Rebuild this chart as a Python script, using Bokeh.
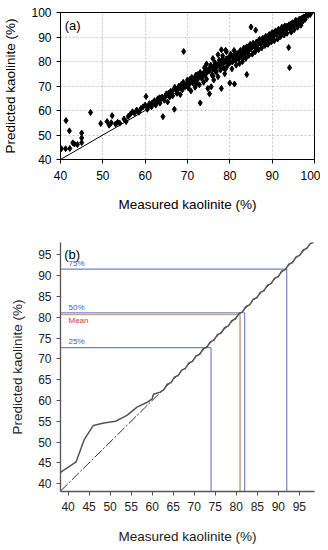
from bokeh.plotting import figure
from bokeh.layouts import column
from bokeh.models import Range1d, Label, FixedTicker
from bokeh.embed import file_html
from bokeh.resources import INLINE

FONT = "Liberation Sans"

# ---------------- Panel (a): measured vs predicted scatter ----------------
meas_a = [40.2, 41.2, 42.2, 41.3, 42.1, 42.9, 43.3, 44.0, 45.0, 45.0, 45.0, 47.1,
          49.5, 51.0, 51.5, 52.0, 52.2, 53.0, 53.5, 54.0, 55.0, 55.5, 56.0, 56.5,
          57.0, 57.5, 58.0, 58.5, 59.0, 59.5, 60.0, 60.2, 60.5, 61.0, 61.5, 62.0,
          62.5, 63.0, 63.5, 64.0, 64.2, 64.5, 65.0, 65.3, 65.8, 66.0, 66.5, 66.9,
          67.0, 67.5, 68.0, 68.3, 68.8, 69.0, 69.1, 69.5, 70.0, 70.3, 70.8, 71.0,
          71.3, 71.8, 72.0, 72.3, 72.8, 73.0, 73.0, 73.3, 73.8, 74.0, 74.2, 74.5,
          74.8, 75.0, 75.2, 75.5, 75.6, 75.8, 76.0, 76.2, 76.5, 76.8, 77.0, 77.2,
          77.5, 77.8, 78.0, 78.0, 78.3, 78.5, 78.8, 79.0, 79.2, 79.5, 79.8, 80.0,
          80.0, 80.2, 80.5, 80.8, 81.0, 81.1, 81.3, 81.5, 81.8, 82.0, 82.3, 82.5,
          82.8, 83.0, 83.3, 83.5, 83.8, 84.0, 84.0, 84.3, 84.5, 84.8, 85.0, 85.0,
          85.3, 85.5, 85.8, 86.0, 86.1, 86.3, 86.5, 86.8, 87.0, 87.3, 87.5, 87.8,
          88.0, 88.3, 88.5, 88.8, 89.0, 89.3, 89.5, 89.8, 90.0, 90.3, 90.5, 90.8,
          91.0, 91.3, 91.5, 91.8, 92.0, 92.3, 92.5, 92.8, 93.0, 93.3, 93.5, 93.9,
          94.0, 94.1, 94.3, 94.5, 94.8, 95.0, 95.2, 95.5, 95.8, 96.0, 96.3, 96.5,
          96.8, 97.0, 97.3, 97.5, 97.8, 98.0, 98.5, 99.0,
          62.2, 63.7, 65.5, 67.2, 68.6, 69.8, 70.6, 71.6, 72.5, 73.6, 74.6, 75.4,
          76.4, 77.4, 78.2, 79.4, 80.4, 81.6, 82.6, 83.6, 84.6, 85.6, 86.6, 87.6,
          88.6, 89.6, 90.6, 91.6, 92.6, 93.6, 94.6, 95.6, 96.6, 97.6, 70.2, 72.2,
          74.4, 76.6, 78.6, 80.6, 82.2, 84.2, 86.2, 88.2, 90.2, 92.2, 94.2, 96.2]
pred_a = [44.4, 44.4, 44.5, 55.9, 51.7, 46.8, 46.3, 46.1, 46.9, 48.8, 50.8, 59.2,
          54.7, 55.5, 54.0, 55.0, 57.9, 54.5, 55.2, 54.8, 56.5, 55.5, 57.6, 58.5,
          59.5, 58.8, 60.2, 59.3, 60.8, 61.5, 62.2, 65.7, 60.5, 62.8, 61.5, 63.5,
          62.2, 64.8, 63.0, 65.5, 57.5, 64.2, 66.8, 63.5, 65.5, 67.8, 66.0, 60.5,
          69.5, 67.0, 70.0, 66.5, 68.5, 71.5, 84.1, 69.8, 72.5, 70.3, 68.0, 73.5,
          71.2, 69.5, 74.5, 72.5, 70.5, 63.1, 75.5, 73.2, 71.5, 77.5, 74.5, 72.8,
          69.0, 76.2, 66.8, 78.5, 69.7, 74.5, 77.0, 72.5, 79.5, 75.8, 78.0, 73.8,
          80.5, 76.5, 79.0, 69.0, 82.3, 77.5, 75.0, 80.2, 84.0, 78.5, 81.5, 79.5,
          71.2, 83.0, 77.0, 82.0, 84.5, 70.8, 80.5, 78.5, 83.2, 81.0, 79.2, 84.5,
          82.3, 80.0, 85.5, 83.0, 81.3, 74.7, 86.0, 84.2, 82.5, 87.0, 94.1, 85.2,
          83.0, 87.5, 86.0, 84.0, 92.8, 88.0, 86.5, 84.8, 89.0, 87.2, 85.5, 89.5,
          88.0, 86.5, 90.3, 88.8, 87.0, 91.0, 89.5, 88.0, 91.8, 90.2, 88.5, 92.5,
          91.0, 89.2, 93.2, 91.8, 90.2, 94.0, 92.5, 90.8, 94.5, 93.0, 91.5, 85.7,
          95.0, 77.5, 93.8, 92.0, 95.8, 94.5, 93.0, 96.2, 95.0, 94.0, 97.0, 95.8,
          94.8, 97.5, 96.5, 98.2, 97.2, 98.5, 98.8, 99.2,
          64.0, 65.0, 67.0, 68.5, 70.8, 71.0, 72.8, 73.0, 74.8, 74.0, 76.5, 77.8,
          78.3, 79.0, 80.8, 81.2, 82.5, 82.0, 84.0, 84.5, 86.2, 86.8, 87.6, 88.8,
          89.8, 90.5, 91.5, 92.6, 93.5, 94.2, 95.4, 96.8, 97.2, 98.0, 69.2, 71.0,
          75.5, 76.0, 80.0, 79.8, 81.8, 83.8, 85.5, 87.8, 89.2, 91.4, 93.2, 95.6]

# densest part of the band, near the 1:1 line
meas_band = [60.8, 61.6, 62.9, 63.4, 64.8, 65.6, 66.4, 67.7, 68.2, 69.3, 70.1, 70.9,
             71.5, 72.1, 72.7, 73.4, 73.9, 74.3, 75.1, 75.7, 76.3, 76.9, 77.6, 78.1,
             78.7, 79.1, 79.7, 80.3, 80.9, 81.4, 81.9, 82.4, 82.9, 83.4, 83.9, 84.4,
             84.9, 85.4, 85.9, 86.4, 86.9, 87.4, 87.9, 88.4, 88.9, 89.4, 89.9, 90.4,
             90.9, 91.4, 91.9, 92.4, 92.9, 93.4, 93.9, 94.4, 94.9, 95.4, 95.9, 96.4,
             96.9, 97.4, 97.9, 76.0, 79.0, 83.0, 86.0, 89.0, 92.0, 74.5, 76.0, 77.2,
             79.0, 78.0]
pred_band = [61.8, 63.0, 63.8, 65.2, 66.0, 66.4, 67.9, 68.5, 69.8, 70.1, 71.6, 71.8,
             72.9, 73.2, 74.0, 74.3, 75.6, 75.2, 76.4, 77.2, 77.6, 78.5, 78.6, 79.8,
             79.9, 81.0, 80.8, 82.1, 81.9, 83.1, 82.6, 84.0, 83.6, 84.9, 84.8, 85.9,
             85.6, 87.0, 86.7, 87.8, 87.6, 88.9, 88.5, 89.7, 89.6, 90.8, 90.4, 91.7,
             91.5, 92.5, 92.7, 93.4, 93.8, 94.3, 94.6, 95.3, 95.6, 96.3, 96.5, 97.2,
             97.5, 98.1, 98.4, 74.2, 77.0, 81.0, 84.2, 87.2, 90.5, 79.0, 81.2, 82.8,
             84.6, 84.8]

one_to_one = [40, 100]

# ---------------- Panel (b): quantile comparison ----------------
qq_meas = [38.2, 41.9, 43.8, 46.0, 48.5, 51.3, 54.0, 56.4, 58.7, 60.0, 60.3, 61.9,
           62.8, 63.6, 64.5, 65.3, 66.2, 67.0, 67.9, 68.7, 69.6, 70.4, 71.3, 72.1,
           73.0, 73.8, 74.7, 75.5, 76.4, 77.2, 78.1, 78.9, 79.8, 80.6, 81.5, 82.3,
           83.2, 84.0, 84.9, 85.7, 86.6, 87.4, 88.3, 89.1, 90.0, 90.8, 91.7, 92.5,
           93.4, 94.2, 95.1, 95.9, 96.8, 97.6, 98.4]
qq_pred = [42.7, 45.2, 50.5, 54.0, 54.6, 55.0, 56.4, 58.4, 59.5, 60.4, 61.5, 62.0,
           62.6, 63.9, 64.3, 65.6, 66.0, 67.3, 67.7, 69.0, 69.4, 70.7, 71.1, 72.4,
           72.8, 74.1, 74.5, 75.8, 76.2, 77.5, 77.9, 79.2, 79.6, 80.9, 81.3, 82.6,
           83.0, 84.3, 84.7, 86.0, 86.4, 87.7, 88.1, 89.4, 89.8, 91.1, 91.5, 92.8,
           93.2, 94.5, 94.9, 96.2, 96.6, 97.8, 98.0]
ref_line = [38.2, 98.6]

q_labels = ["25%", "50%", "75%"]
q_meas = [74.0, 82.0, 92.0]
q_pred = [72.7, 81.1, 91.6]
mean_label = "Mean"
mean_meas = 80.9
mean_pred = 80.7

ticks_a = [40, 50, 60, 70, 80, 90, 100]
ticks_b = [40, 45, 50, 55, 60, 65, 70, 75, 80, 85, 90, 95]

# ---------------- figure (a) ----------------
p1 = figure(width=320, height=214, output_backend="svg", toolbar_location=None,
            x_range=Range1d(40, 100), y_range=Range1d(40, 100),
            min_border_left=56, min_border_right=6, min_border_top=12, min_border_bottom=52)
p1.outline_line_color = "black"
p1.outline_line_width = 1
p1.line(one_to_one, one_to_one, line_color="black", line_width=1)
p1.scatter(meas_a, pred_a, marker="diamond", size=6, fill_color="black", line_color="black")
p1.scatter(meas_band, pred_band, marker="diamond", size=6, fill_color="black", line_color="black")

for ax in (p1.xaxis[0], p1.yaxis[0]):
    ax.ticker = FixedTicker(ticks=ticks_a)
    ax.major_tick_in = 0
    ax.major_tick_out = 4
    ax.minor_tick_out = 0
    ax.minor_tick_in = 0
    ax.axis_line_color = "black"
    ax.major_tick_line_color = "black"
    ax.major_label_text_font = FONT
    ax.major_label_text_font_size = "12px"
    ax.major_label_text_color = "black"
    ax.axis_label_text_font = FONT
    ax.axis_label_text_font_size = "13.5px"
    ax.axis_label_text_font_style = "normal"
    ax.axis_label_text_color = "black"
p1.xaxis.axis_label = "Measured kaolinite (%)"
p1.yaxis.axis_label = "Predicted kaolinite (%)"
p1.xaxis.major_label_standoff = 7
p1.yaxis.major_label_standoff = 5
p1.xaxis.axis_label_standoff = 14
p1.yaxis.axis_label_standoff = 10
p1.grid.grid_line_color = "#c8c8c8"
p1.grid.grid_line_dash = "2 2"
p1.xgrid.ticker = FixedTicker(ticks=ticks_a)
p1.ygrid.ticker = FixedTicker(ticks=ticks_a)
p1.add_layout(Label(x=41, y=97.8, text="(a)", text_baseline="top", text_font=FONT,
                    text_font_size="13px", text_color="black"))

# ---------------- figure (b) ----------------
p2 = figure(width=320, height=332, output_backend="svg", toolbar_location=None,
            x_range=Range1d(38.2, 98.6), y_range=Range1d(38.1, 98.0),
            min_border_left=56, min_border_right=6, min_border_top=28, min_border_bottom=52)
p2.outline_line_color = None
p2.grid.grid_line_color = None

blue = "#7482c2"
x0 = 38.2
y0 = 38.1
p2.segment([x0] * 3, q_pred, q_meas, q_pred, line_color=blue, line_width=1.2)
p2.segment(q_meas, [y0] * 3, q_meas, q_pred, line_color=blue, line_width=1.2)
p2.segment([x0], [mean_pred], [mean_meas], [mean_pred], line_color="#c4a88a", line_width=1.6)
p2.segment([mean_meas], [y0], [mean_meas], [mean_pred], line_color="#c4a88a", line_width=1.6)

p2.line(ref_line, ref_line, line_color="#333333", line_width=1, line_dash="10 2 2 2")
p2.line(qq_meas, qq_pred, line_color="#555555", line_width=1.5)

for lab, yv in zip(q_labels, q_pred):
    p2.add_layout(Label(x=40.1, y=yv + 0.3, text=lab, text_baseline="bottom", text_font=FONT,
                        text_font_size="8px", text_color="#4a5aa8"))
p2.add_layout(Label(x=40.1, y=mean_pred - 0.4, text=mean_label, text_baseline="top", text_font=FONT,
                    text_font_size="8px", text_color="#d04040"))
p2.add_layout(Label(x=39.1, y=96.9, text="(b)", text_baseline="top", text_font=FONT,
                    text_font_size="13px", text_color="black"))

for ax in (p2.xaxis[0], p2.yaxis[0]):
    ax.ticker = FixedTicker(ticks=ticks_b)
    ax.major_tick_in = 0
    ax.major_tick_out = 4
    ax.minor_tick_out = 0
    ax.minor_tick_in = 0
    ax.axis_line_color = "#555555"
    ax.axis_line_width = 1.3
    ax.major_tick_line_color = "#555555"
    ax.major_label_text_font = FONT
    ax.major_label_text_font_size = "12px"
    ax.major_label_text_color = "#222222"
    ax.axis_label_text_font = FONT
    ax.axis_label_text_font_size = "13.5px"
    ax.axis_label_text_font_style = "normal"
    ax.axis_label_text_color = "#222222"
p2.xaxis.axis_label = "Measured kaolinite (%)"
p2.yaxis.axis_label = "Predicted kaolinite (%)"
p2.xaxis.major_label_standoff = 6
p2.yaxis.major_label_standoff = 5
p2.xaxis.axis_label_standoff = 15
p2.yaxis.axis_label_standoff = 10

layout = column(p1, p2, spacing=0)
open("out.html", "w").write(file_html(layout, INLINE))
